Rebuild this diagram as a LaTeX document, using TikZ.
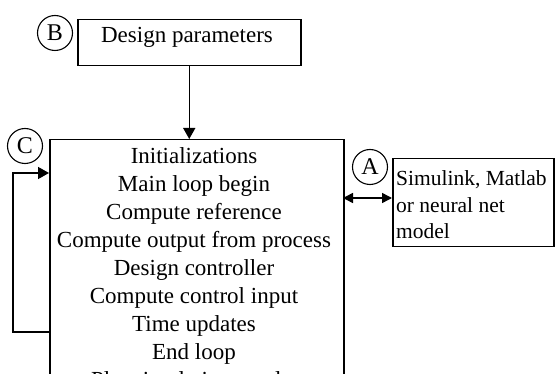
\documentclass[tikz,border=0pt]{standalone}
\usepackage{fontspec}
\setmainfont{Liberation Serif}
\usetikzlibrary{arrows.meta}
\begin{document}
\begin{tikzpicture}[x=1pt,y=-1pt,
  txt/.style={font=\fontsize{23}{28}\selectfont},
  box/.style={draw, line width=1.5pt, inner sep=0pt},
  tag/.style={draw, circle, line width=1.1pt, minimum size=35pt, inner sep=0pt, font=\fontsize{24}{26}\selectfont},
  conn/.style={line width=1.5pt},
  tip/.style={-{Triangle[length=11pt,width=12pt]}}
]
\useasboundingbox (0,0) rectangle (555,374);
\clip (0,0) rectangle (555,374);
% Design parameters box
\node[box, minimum width=223pt, minimum height=46pt, anchor=north west] (B) at (77,19) {};
\node[txt, anchor=base] (Btxt) at (187,43) {Design parameters};
\node[tag] (Bc) at (55,33) {B};
% Main box
\node[box, minimum width=294pt, minimum height=300pt, anchor=north west] (M) at (49,139) {};
\node[txt, anchor=north, align=center, inner sep=0pt] (Mtxt) at (194,147.4) {Initializations\\Main loop begin\\Compute reference\\Compute output from process\\Design controller\\Compute control input\\Time updates\\End loop\\Plot simulation results};
\node[tag] (Cc) at (25,146) {C};
% Model box
\node[box, minimum width=161pt, minimum height=88pt, anchor=north west] (S) at (392,158) {};
\node[anchor=north west, align=left, inner sep=0pt, font=\fontsize{21.5}{26.5}\selectfont] (Stxt) at (396,170.5) {Simulink, Matlab\\or neural net\\model};
\node[tag] (Ac) at (370,167) {A};
% connectors
\draw[conn, tip] (B.south) -- (B.south |- M.north);
\coordinate (L1) at (49,332);
\coordinate (L2) at (13,332);
\coordinate (L3) at (13,173);
\coordinate (L4) at (49,173);
\draw[conn, tip] (L1) -- (L2) -- (L3) -- (L4);
\coordinate (D1) at (343,198);
\coordinate (D2) at (392,198);
\draw[conn, {Triangle[length=10pt,width=10pt]}-{Triangle[length=10pt,width=10pt]}] (D1) -- (D2);
\end{tikzpicture}
\end{document}
